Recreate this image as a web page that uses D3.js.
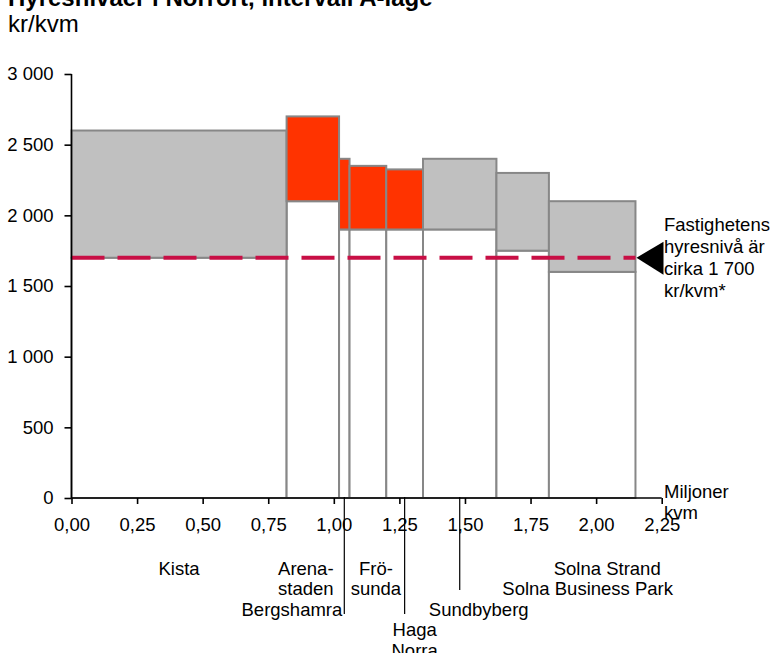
<!DOCTYPE html>
<html>
<head>
<meta charset="utf-8">
<script src="https://cdn.jsdelivr.net/npm/d3@7"></script>
<style>
  html, body { margin: 0; padding: 0; background: #ffffff; }
  svg { display: block; font-family: "Liberation Sans", Arial, sans-serif; }
</style>
</head>
<body>
<svg id="chart" width="771" height="653"></svg>
<script>
// Office rent intervals (A-location) per district, bar width = office stock
const districts = ["Kista", "Arenastaden", "Bergshamra", "Frösunda", "Haga Norra",
                   "Sundbyberg", "Solna Business Park", "Solna Strand"];
const areaMkvm = [0.82, 0.20, 0.04, 0.14, 0.14, 0.28, 0.20, 0.33];
const rentLow  = [1700, 2100, 1900, 1900, 1900, 1900, 1750, 1600];
const rentHigh = [2600, 2700, 2400, 2350, 2325, 2400, 2300, 2100];
const highlighted = [false, true, true, true, true, false, false, false];
const propertyRent = 1700;

const yTicks = [0, 500, 1000, 1500, 2000, 2500, 3000];
const yTickLabels = ["0", "500", "1 000", "1 500", "2 000", "2 500", "3 000"];
const xTicks = [0, 0.25, 0.5, 0.75, 1.0, 1.25, 1.5, 1.75, 2.0, 2.25];
const xTickLabels = ["0,00", "0,25", "0,50", "0,75", "1,00", "1,25", "1,50", "1,75", "2,00", "2,25"];

const titleText = "Hyresnivåer i Norrort, intervall A-läge";
const unitText = "kr/kvm";
const xUnitLines = ["Miljoner", "kvm"];
const noteLines = ["Fastighetens", "hyresnivå är", "cirka 1 700", "kr/kvm*"];

// district label layout: text lines, horizontal shift from bar centre, first row, leader line
const labelLayout = [
  { lines: ["Kista"], dx: 0, row: 0, anchor: "middle" },
  { lines: ["Arena-", "staden"], dx: -7, row: 0, anchor: "middle" },
  { lines: ["Bergshamra"], dx: -2, row: 2, anchor: "end", leader: true },
  { lines: ["Frö-", "sunda"], dx: 8, row: 0, anchor: "middle" },
  { lines: ["Haga", "Norra"], dx: 10, row: 3, anchor: "middle", leader: true },
  { lines: ["Sundbyberg"], dx: 19, row: 2, anchor: "middle", leader: true, leaderEnd: 590 },
  { lines: ["Solna Business Park"], dx: 65, row: 1, anchor: "middle" },
  { lines: ["Solna Strand"], dx: 15, row: 0, anchor: "middle" }
];

const svg = d3.select("#chart");
const plotLeft = 71.5, plotRight = 661.7, plotTop = 74, plotBottom = 498;

const x = d3.scaleLinear().domain([0, 2.25]).range([plotLeft, plotRight]);
const y = d3.scaleLinear().domain([0, 3000]).range([plotBottom, plotTop]);

// cumulative stock gives each bar its extent
const starts = [];
areaMkvm.reduce((acc, w, i) => { starts[i] = acc; return acc + w; }, 0);
const bars = districts.map((d, i) => ({
  name: d, x0: starts[i], x1: starts[i] + areaMkvm[i],
  low: rentLow[i], high: rentHigh[i], hi: highlighted[i]
}));

const stroke = "#878787";

// lower (empty) part of each bar
svg.append("g").selectAll("rect").data(bars).join("rect")
  .attr("x", d => x(d.x0)).attr("width", d => x(d.x1) - x(d.x0))
  .attr("y", d => y(d.low)).attr("height", d => y(0) - y(d.low))
  .attr("fill", "#ffffff").attr("stroke", stroke).attr("stroke-width", 2);

// rent interval
svg.append("g").selectAll("rect").data(bars).join("rect")
  .attr("x", d => x(d.x0)).attr("width", d => x(d.x1) - x(d.x0))
  .attr("y", d => y(d.high)).attr("height", d => y(d.low) - y(d.high))
  .attr("fill", d => d.hi ? "#ff3300" : "#c0c0c0")
  .attr("stroke", stroke).attr("stroke-width", 2);

// property rent level
const lastEnd = x(bars[bars.length - 1].x1);
svg.append("line")
  .attr("x1", x(0)).attr("x2", lastEnd)
  .attr("y1", y(propertyRent)).attr("y2", y(propertyRent))
  .attr("stroke", "#c80f45").attr("stroke-width", 4)
  .attr("stroke-dasharray", "33,13");

svg.append("path")
  .attr("d", d3.line()([[lastEnd + 1, y(propertyRent)], [lastEnd + 28, y(propertyRent) - 16], [lastEnd + 28, y(propertyRent) + 17]]) + "Z")
  .attr("fill", "#000000");

// axes
const fontSize = 18.5;
const yAxis = d3.axisLeft(y).tickValues(yTicks).tickSize(7).tickPadding(11)
  .tickFormat((d, i) => yTickLabels[i]);
const gy = svg.append("g").attr("transform", `translate(${plotLeft},0)`).call(yAxis);
const xAxis = d3.axisBottom(x).tickValues(xTicks).tickSize(6).tickPadding(14)
  .tickFormat((d, i) => xTickLabels[i]);
const gx = svg.append("g").attr("transform", `translate(0,${plotBottom})`).call(xAxis);

[gy, gx].forEach(g => {
  g.select(".domain").attr("stroke", "#000").attr("stroke-width", 1.6);
  g.selectAll(".tick line").attr("stroke", "#000").attr("stroke-width", 1.6);
  g.selectAll(".tick text").attr("fill", "#000")
    .style("font-family", "'Liberation Sans', Arial, sans-serif")
    .style("font-size", fontSize + "px");
});
gx.select(".domain").attr("d", `M${plotLeft},0H${plotRight}`);
gy.select(".domain").attr("d", `M0,${plotTop}V${plotBottom}`);

// x unit
svg.append("text").attr("x", 664).attr("y", 498).attr("font-size", fontSize)
  .selectAll("tspan").data(xUnitLines).join("tspan")
  .attr("x", 664).attr("dy", (d, i) => i ? 20.5 : 0).text(d => d);

// property note
svg.append("text").attr("x", 664).attr("y", 230.5).attr("font-size", fontSize)
  .selectAll("tspan").data(noteLines).join("tspan")
  .attr("x", 664).attr("dy", (d, i) => i ? 22 : 0).text(d => d);

// district labels and leader lines
const rowBase = 574.5, rowStep = 20.5;
bars.forEach((b, i) => {
  const L = labelLayout[i];
  const cx = (x(b.x0) + x(b.x1)) / 2;
  const t = svg.append("text").attr("font-size", fontSize).attr("text-anchor", L.anchor);
  L.lines.forEach((line, k) => {
    t.append("tspan").attr("x", cx + L.dx).attr("y", rowBase + (L.row + k) * rowStep).text(line);
  });
  if (L.leader) {
    const yEnd = L.leaderEnd || 614;
    svg.append("line").attr("x1", cx).attr("x2", cx).attr("y1", plotBottom - 1).attr("y2", yEnd)
      .attr("stroke", "#000").attr("stroke-width", 1.2);
  }
});

// title and unit
svg.append("text").attr("x", 8).attr("y", 6).attr("font-size", 24).attr("font-weight", "bold")
  .text(titleText);
svg.append("text").attr("x", 8).attr("y", 31.5).attr("font-size", 24).text(unitText);
</script>
</body>
</html>
